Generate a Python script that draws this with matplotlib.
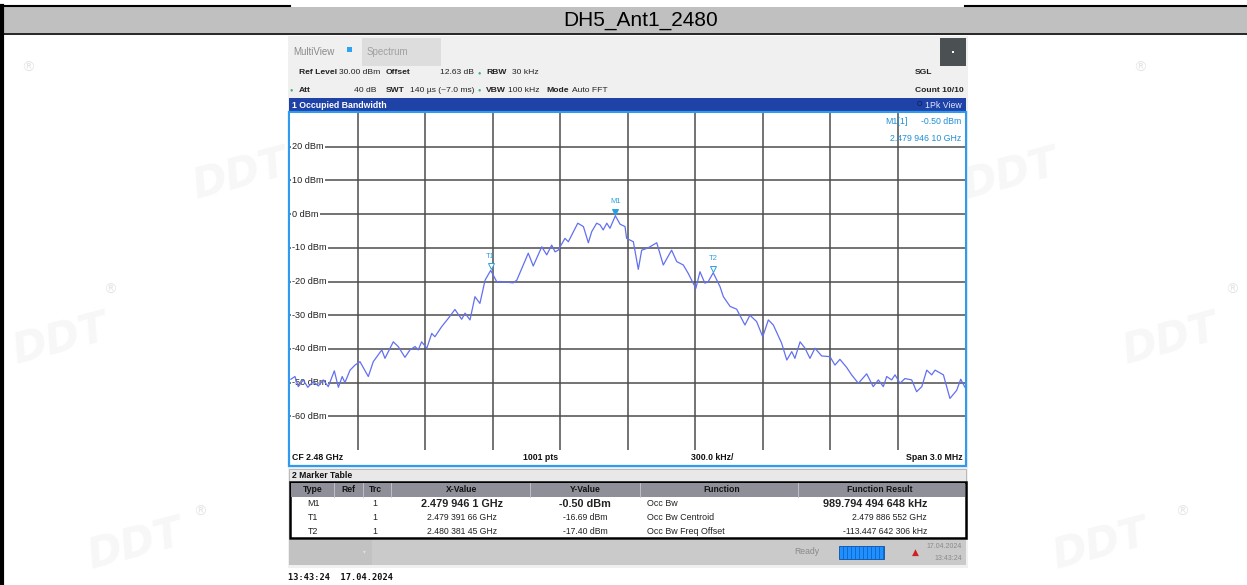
import matplotlib
matplotlib.use("Agg")
import matplotlib.pyplot as plt
from matplotlib.patches import Rectangle

W, H = 1247, 585

# trace: offset from CF 2.48 GHz (kHz) and level (dBm)
freq_khz = [-1496, -1478, -1463, -1441, -1421, -1396, -1374, -1352, -1330, -1303,
            -1285, -1268, -1256, -1233, -1211, -1189, -1152, -1130, -1092, -1078,
            -1041, -1019, -989, -967, -944, -930, -915, -892, -870, -856,
            -826, -796, -767, -737, -722, -700, -678, -656, -633, -608,
            -581, -567, -508, -492, -441, -419, -381, -359, -337, -322,
            -308, -278, -263, -221, -196, -174, -159, -137, -122, -108,
            -92, -78, -54, -33, -11, -4, 26, 48, 63, 85,
            100, 130, 159, 196, 219, 248, 270, 285, 304, 322,
            344, 359, 381, 411, 426, 456, 485, 522, 544, 574,
            601, 626, 648, 685, 708, 730, 744, 767, 789, 811,
            833, 863, 900, 922, 944, 974, 996, 1026, 1063, 1092,
            1115, 1137, 1152, 1174, 1189, 1211, 1233, 1263, 1285, 1308,
            1330, 1352, 1367, 1404, 1433, 1463, 1481, 1500]
level_dbm = [-49.0, -48.2, -51.2, -49.2, -51.4, -49.7, -51.0, -49.2, -51.2, -46.5,
             -51.4, -48.2, -50.0, -46.3, -44.8, -43.8, -48.2, -43.8, -40.3, -42.8,
             -37.9, -39.3, -42.5, -40.3, -39.3, -40.3, -37.9, -39.8, -35.4, -36.4,
             -33.4, -30.9, -28.3, -31.2, -29.4, -31.4, -24.5, -26.5, -19.6, -16.7,
             -20.1, -20.0, -20.4, -19.6, -11.6, -15.4, -9.7, -12.1, -9.2, -11.2,
             -10.7, -7.2, -8.2, -2.7, -3.7, -8.5, -5.2, -2.7, -3.2, -4.7,
             -2.7, -4.2, -0.5, -3.0, -3.7, -7.2, -8.2, -16.4, -10.7, -10.2,
             -9.7, -8.5, -15.1, -10.7, -14.1, -15.1, -17.6, -19.6, -22.0, -17.1,
             -20.5, -20.0, -17.4, -21.5, -24.5, -27.4, -28.2, -32.9, -30.0, -31.9,
             -36.4, -31.4, -32.9, -38.3, -43.3, -40.8, -42.8, -37.9, -39.8, -42.8,
             -39.8, -42.1, -42.3, -44.8, -43.1, -45.5, -47.7, -50.2, -47.4, -51.2,
             -49.2, -51.2, -48.2, -49.2, -47.7, -50.2, -48.8, -49.2, -52.7, -51.2,
             -46.3, -47.7, -46.3, -47.7, -54.7, -52.3, -49.0, -51.4]

marker_names = ["M1", "T1", "T2"]
marker_khz = [-53.9, -608.34, 381.45]
marker_dbm = [-0.50, -16.69, -17.40]

y_ticks = [20, 10, 0, -10, -20, -30, -40, -50, -60]

table_header = ["Type", "Ref", "Trc", "X-Value", "Y-Value", "Function", "Function Result"]
table_rows = [
    ["M1", "", "1", "2.479 946 1 GHz", "-0.50 dBm", "Occ Bw", "989.794 494 648 kHz"],
    ["T1", "", "1", "2.479 391 66 GHz", "-16.69 dBm", "Occ Bw Centroid", "2.479 886 552 GHz"],
    ["T2", "", "1", "2.480 381 45 GHz", "-17.40 dBm", "Occ Bw Freq Offset", "-113.447 642 306 kHz"],
]

UI = ["Liberation Sans", "DejaVu Sans"]
HEAD = ["Liberation Sans", "DejaVu Sans"]

fig = plt.figure(figsize=(W / 100, H / 100), dpi=100)
bg = fig.add_axes([0, 0, 1, 1])
bg.set_xlim(0, W)
bg.set_ylim(H, 0)
bg.axis("off")


def box(x0, y0, x1, y1, fc="none", ec="none", lw=0, z=1):
    bg.add_patch(Rectangle((x0, y0), x1 - x0, y1 - y0, fc=fc, ec=ec, lw=lw, zorder=z))


def txt(x, y, s, size=6.1, color="#222222", ha="left", weight="normal", fam=UI, z=5):
    bg.text(x, y, s, fontsize=size, color=color, ha=ha, va="center",
            fontweight=weight, family=fam, zorder=z)


# faint watermarks
for (x, y) in [(28, 68), (1140, 68), (110, 290), (1232, 290), (200, 512), (1182, 512)]:
    txt(x, y, "®", size=10, color="#e6e6e6", ha="center", fam=["DejaVu Sans"], z=0)
for (x, y) in [(240, 175), (1010, 175), (60, 340), (1170, 340), (135, 545), (1100, 545)]:
    bg.text(x, y, "DDT", fontsize=30, color="#f7f7f7", ha="center", va="center",
            fontweight="bold", style="italic", rotation=15, zorder=0)

# document table frame
bg.plot([0, 290], [6, 6], color="black", lw=1.5, zorder=3)
bg.plot([965, W], [6, 6], color="black", lw=1.5, zorder=3)
box(3, 7, W, 33, fc="#c0c0c0", z=2)
bg.plot([0, W], [33.5, 33.5], color="black", lw=1.2, zorder=3)
bg.plot([1.5, 1.5], [6, H], color="black", lw=3, zorder=3)
txt(641, 20.5, "DH5_Ant1_2480", size=15, color="black", ha="center", fam=HEAD)

# analyzer screenshot
box(288, 36, 968, 568, fc="#f0f0f0", z=1)
box(362, 38, 441, 66, fc="#dddddd", z=2)
txt(293, 52, "MultiView", size=7, color="#8a8a8a")
box(347, 47, 352, 52, fc="#2ea3f2", z=3)
txt(367, 52, "Spectrum", size=7, color="#a0a0a0")
box(940, 38, 966, 66, fc="#4b5052", z=2)
box(952, 51, 954, 53, fc="white", z=3)

txt(299, 73, "Ref Level", weight="bold")
txt(339, 73, "30.00 dBm")
txt(386, 73, "Offset", weight="bold")
txt(440, 73, "12.63 dB")
txt(478, 73, "●", size=4, color="#3cb371")
txt(486, 73, "RBW", weight="bold")
txt(512, 73, "30 kHz")
txt(289, 90, "●", size=4, color="#3cb371")
txt(299, 90, "Att", weight="bold")
txt(354, 90, "40 dB")
txt(386, 90, "SWT", weight="bold")
txt(410, 90, "140 µs (~7.0 ms)")
txt(478, 90, "●", size=4, color="#3cb371")
txt(486, 90, "VBW", weight="bold")
txt(508, 90, "100 kHz")
txt(546, 90, "Mode", weight="bold")
txt(572, 90, "Auto FFT")
txt(915, 73, "SGL", weight="bold")
txt(915, 90, "Count 10/10", weight="bold")

# blue title bar and plot frame
box(289, 98, 966, 112, fc="#1f42a6", z=2)
txt(292, 105, "1 Occupied Bandwidth", size=6.3, color="white", weight="bold")
txt(919, 105, "O", size=5, color="#0a1a50", ha="center")
txt(962, 105, "1Pk View", size=6.3, color="#dfe6ff", ha="right")
box(289, 112, 966, 466, fc="white", ec="#2e9bf0", lw=1.6, z=2)
txt(292, 458, "CF 2.48 GHz", size=6.3, color="#111111", weight="bold")
txt(541, 458, "1001 pts", size=6.3, color="#111111", ha="center", weight="bold")
txt(712, 458, "300.0 kHz/", size=6.3, color="#111111", ha="center", weight="bold")
txt(963, 458, "Span 3.0 MHz", size=6.3, color="#111111", ha="right", weight="bold")

# marker table
box(289, 469, 966, 482, fc="#e8e8e8", ec="#b0b0b0", lw=0.6, z=2)
txt(292, 475.5, "2 Marker Table", size=6.2, color="#111111", weight="bold")
box(290, 482, 966, 538, fc="white", ec="black", lw=1.8, z=2)
box(291, 483, 965, 497, fc="#8f8f9a", z=3)
col_sep = [334, 363, 391, 530, 640, 798]
for xs in col_sep:
    bg.plot([xs, xs], [483, 497], color="#c8c8d0", lw=0.6, zorder=4)
col_x = [313, 348, 375, 462, 585, 722, 880]
for cx, name in zip(col_x, table_header):
    txt(cx, 490, name, size=6.2, color="#111111", ha="center", weight="bold")
row_y = [504, 518, 531]
for ry, row in zip(row_y, table_rows):
    big = row[0] == "M1"
    sz = 7.8 if big else 6.2
    wt = "bold" if big else "normal"
    txt(313, ry, row[0], ha="center", size=6.4)
    txt(375, ry, row[2], ha="center", size=6.4)
    txt(462, ry, row[3], size=sz, weight=wt, ha="center")
    txt(585, ry, row[4], size=sz, weight=wt, ha="center")
    txt(647, ry, row[5], size=6.4)
    txt(927, ry, row[6], size=sz, weight=wt, ha="right")

# status bar
box(289, 540, 966, 565, fc="#cacaca", z=2)
box(289, 540, 372, 565, fc="#c2c2c2", z=3)
txt(364, 552, "▾", size=4, color="#e0e0e0", ha="center", fam=["DejaVu Sans"])
txt(807, 552, "Ready", size=6.2, color="#8a8a8a", ha="center")
box(839, 546, 884, 559, fc="#1e90ff", ec="#0b4f9e", lw=0.6, z=3)
for xs in range(843, 884, 4):
    bg.plot([xs, xs], [546.5, 558.5], color="#0b5cb8", lw=0.5, zorder=4)
txt(915, 552, "▲", size=6.5, color="#d02020", ha="center", fam=["DejaVu Sans"])
txt(962, 547, "17.04.2024", size=5, color="#8a8a8a", ha="right")
txt(962, 558, "13:43:24", size=5, color="#8a8a8a", ha="right")

txt(288, 577, "13:43:24  17.04.2024", size=6.2, color="#111111",
    fam=["DejaVu Sans Mono"], weight="bold")

# spectrum plot
ax = fig.add_axes([290 / W, 1 - 450 / H, 675 / W, 337 / H])
ax.set_xlim(-1500, 1500)
ax.set_ylim(-70, 30)
ax.set_facecolor("white")
for s in ax.spines.values():
    s.set_visible(False)
ax.set_xticks([])
ax.set_yticks([])
for gx in range(-1200, 1500, 300):
    ax.axvline(gx, color="#4d4d4d", lw=1.1, zorder=1)
for gy in range(-60, 30, 10):
    ax.axhline(gy, color="#4d4d4d", lw=1.1, zorder=1)
for t in y_ticks:
    ax.text(-1490, t, f"{t} dBm", fontsize=6.6, color="#222222", ha="left", va="center",
            family=UI, zorder=2,
            bbox=dict(facecolor="white", edgecolor="none", pad=0.6))

ax.plot(freq_khz, level_dbm, color="#6270f0", lw=0.9, zorder=3)

for name, fx, lv in zip(marker_names, marker_khz, marker_dbm):
    filled = name == "M1"
    ax.plot(fx, lv + 1.2, marker="v", ms=4, color="#2a9fe0",
            mfc="#2a9fe0" if filled else "white", mew=0.7, zorder=4)
    ax.text(fx, lv + 4.2, name, fontsize=5.5, color="#2a9fe0", ha="center",
            va="center", family=UI, zorder=4)

ax.text(0.915, 0.975, "M1[1]", transform=ax.transAxes, fontsize=6.3,
        color="#1e8fd5", ha="right", va="center", family=UI)
ax.text(0.995, 0.975, "-0.50 dBm", transform=ax.transAxes, fontsize=6.3,
        color="#1e8fd5", ha="right", va="center", family=UI)
ax.text(0.995, 0.925, "2.479 946 10 GHz", transform=ax.transAxes, fontsize=6.3,
        color="#1e8fd5", ha="right", va="center", family=UI)

fig.savefig("out.png", dpi=100)
